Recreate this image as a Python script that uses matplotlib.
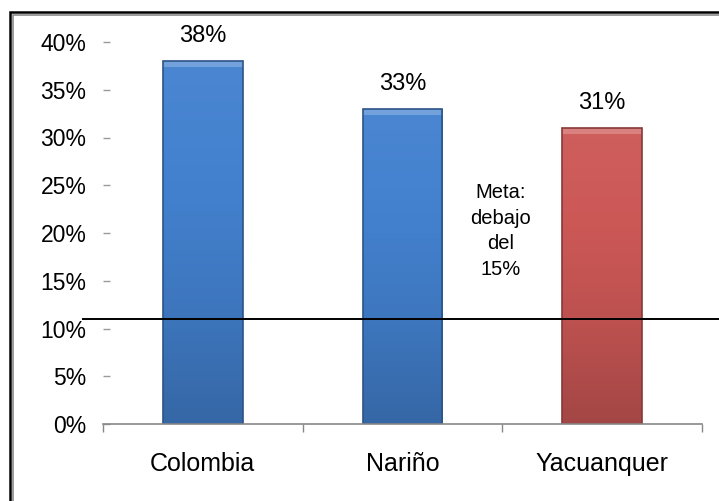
import matplotlib
matplotlib.use("Agg")
import matplotlib.pyplot as plt
import numpy as np
from matplotlib.patches import Rectangle
from matplotlib.colors import LinearSegmentedColormap

categories = ["Colombia", "Nariño", "Yacuanquer"]
values = [38, 33, 31]
bar_colors = ["#4381cf", "#4381cf", "#cc5856"]
ytick_values = [0, 5, 10, 15, 20, 25, 30, 35, 40]
ytick_labels = ["0%", "5%", "10%", "15%", "20%", "25%", "30%", "35%", "40%"]
value_labels = ["38%", "33%", "31%"]
meta_line_value = 11
meta_text = "Meta:\ndebajo\ndel\n15%"

plt.rcParams['font.family'] = ['Liberation Sans', 'DejaVu Sans']

W, H = 719, 501
fig = plt.figure(figsize=(W / 100, H / 100), dpi=100)
fig.patch.set_facecolor("white")

ax = fig.add_axes([103 / W, (H - 424) / H, 599 / W, (424 - 42) / H])
ax.set_xlim(-0.5, 2.5)
ax.set_ylim(0, 40)

x = np.arange(len(categories))
bars = ax.bar(x, values, width=0.40, color=bar_colors, zorder=2,
              edgecolor="none")

def shade(hexcol, f):
    c = np.array(matplotlib.colors.to_rgb(hexcol))
    if f >= 0:
        return tuple(c + (1 - c) * f)
    return tuple(c * (1 + f))

for b, col in zip(bars, bar_colors):
    cmap = LinearSegmentedColormap.from_list(
        "g", [shade(col, -0.2), shade(col, -0.08), shade(col, 0.0), shade(col, 0.04)])
    x0, y0 = b.get_x(), b.get_y()
    w, h = b.get_width(), b.get_height()
    grad = np.linspace(0, 1, 256).reshape(-1, 1)
    im = ax.imshow(grad, cmap=cmap, extent=[x0, x0 + w, y0, y0 + h],
                   origin="lower", aspect="auto", zorder=2.1)
    im.set_clip_path(b)
    ax.add_patch(Rectangle((x0, y0 + h - 0.6), w, 0.6, color=shade(col, 0.25),
                           zorder=2.2, lw=0))
    ax.add_patch(Rectangle((x0, y0), w, h, fill=False,
                           edgecolor=shade(col, -0.35), lw=1.2, zorder=2.3))

for xi, v, lab in zip(x, values, value_labels):
    ax.annotate(lab, (xi, v), xytext=(0, 18), textcoords="offset points",
                ha="center", va="center", fontsize=17, color="black")

ax.set_yticks(ytick_values)
ax.set_yticklabels(ytick_labels, fontsize=16.5)
ax.tick_params(axis="y", direction="in", length=5, width=1, color="#9a9a9a",
               pad=12, labelcolor="black")
ax.set_xticks(x)
ax.set_xticklabels(categories, fontsize=18)
ax.tick_params(axis="x", length=0, pad=20, labelcolor="black")
ax.set_xticks([-0.5, 0.5, 1.5, 2.5], minor=True)
ax.tick_params(axis="x", which="minor", direction="out", length=6,
               color="#888888", width=1)

for s in ["top", "right", "left"]:
    ax.spines[s].set_visible(False)
ax.spines["bottom"].set_color("#888888")
ax.spines["bottom"].set_linewidth(1.2)

ax.axhline(meta_line_value, xmin=(83 - 103) / 599, xmax=(725 - 103) / 599,
           color="black", lw=1.4, clip_on=False, zorder=3)

ax.text(1.49, 20.2, meta_text, ha="center", va="center", fontsize=14.5,
        linespacing=1.45, color="black")

fig.add_artist(Rectangle((10 / W, -0.1), 1.2, (H - 12) / H + 0.1,
                         transform=fig.transFigure, fill=False,
                         edgecolor="black", lw=1.8))
fig.add_artist(Rectangle((12.8 / W, -0.1), 1.2, (H - 14.5) / H + 0.1,
                         transform=fig.transFigure, fill=False,
                         edgecolor="#8a8a8a", lw=1.2))

fig.savefig("out.png", dpi=100)
